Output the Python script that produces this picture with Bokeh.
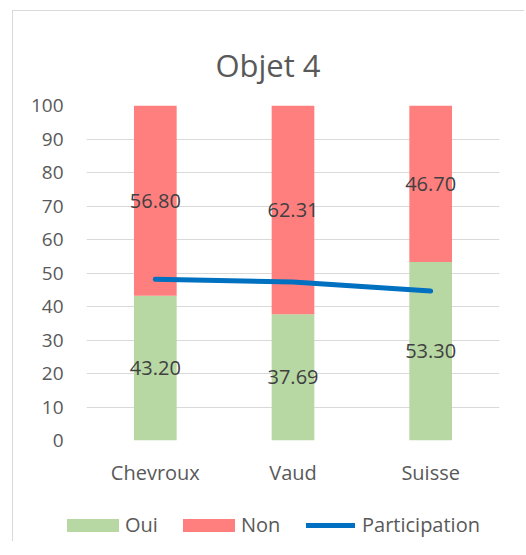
from bokeh.plotting import figure
from bokeh.models import ColumnDataSource, Range1d, FixedTicker, Legend, LegendItem, LabelSet, Label
from bokeh.core.properties import value
from bokeh.embed import file_html
from bokeh.resources import INLINE

categories = ["Chevroux", "Vaud", "Suisse"]
oui = [43.20, 37.69, 53.30]
non = [56.80, 62.31, 46.70]
participation = [48.1, 47.3, 44.6]
y_ticks = [0, 10, 20, 30, 40, 50, 60, 70, 80, 90, 100]
title_text = "Objet 4"

FONT = "Open Sans"
GREEN = "#b7d7a3"
RED = "#ff7f7f"
BLUE = "#0070c0"
TXT = "#595959"
BORDER = "1px solid #d9d9d9"

src = ColumnDataSource(dict(
    cat=categories, oui=oui, non=non, part=participation,
    oui_mid=[o / 2 for o in oui],
    non_mid=[o + n / 2 for o, n in zip(oui, non)],
    oui_lbl=[f"{v:.2f}" for v in oui],
    non_lbl=[f"{v:.2f}" for v in non],
))


def blank_strip(height, xr, yr):
    f = figure(width=512, height=height, x_range=xr, y_range=yr, title=None,
               output_backend="svg", toolbar_location=None, x_axis_type=None, y_axis_type=None,
               min_border=0)
    f.outline_line_color = None
    f.xgrid.grid_line_color = None
    f.ygrid.grid_line_color = None
    f.background_fill_color = "white"
    f.border_fill_color = "white"
    return f


# title strip
t = blank_strip(80, Range1d(0, 512), Range1d(0, 80))
t.margin = (10, 0, 0, 12)
t.styles = {"border-left": BORDER, "border-top": BORDER}
t.add_layout(Label(x=254.5, y=27, text=title_text, text_align="center",
                   text_baseline="alphabetic", text_font=FONT, text_font_size="31px",
                   text_color=TXT))

# main chart
p = figure(x_range=categories, y_range=Range1d(0, 100), width=512, height=409, title=None,
           output_backend="svg", toolbar_location=None,
           min_border_left=73, min_border_right=26, min_border_top=15, min_border_bottom=59)
p.margin = (0, 0, 0, 12)
p.styles = {"border-left": BORDER}
p.outline_line_color = None
p.background_fill_color = "white"
p.border_fill_color = "white"

p.vbar_stack(["oui", "non"], x="cat", width=0.31, source=src,
             color=[GREEN, RED], line_color=None)
p.line(x="cat", y="part", source=src, line_color=BLUE, line_width=5, line_cap="round")

for col, ycol in (("oui_lbl", "oui_mid"), ("non_lbl", "non_mid")):
    p.add_layout(LabelSet(x="cat", y=ycol, text=col, source=src, text_align="center",
                          text_baseline="middle", text_font=value(FONT),
                          text_font_size=value("20px"), text_color="#404040"))

p.yaxis.ticker = FixedTicker(ticks=y_ticks)
for ax in (p.xaxis[0], p.yaxis[0]):
    ax.axis_line_color = None
    ax.major_tick_line_color = None
    ax.minor_tick_line_color = None
    ax.major_tick_out = 0
    ax.major_tick_in = 0
    ax.minor_tick_out = 0
    ax.minor_tick_in = 0
    ax.major_label_text_font = FONT
    ax.major_label_text_color = TXT
p.yaxis.major_label_text_font_size = "19px"
p.xaxis.major_label_text_font_size = "20px"
p.yaxis.major_label_standoff = 23
p.xaxis.major_label_standoff = 18

p.xgrid.grid_line_color = None
p.ygrid.grid_line_color = "#d9d9d9"
p.ygrid.grid_line_width = 1
p.ygrid.ticker = FixedTicker(ticks=y_ticks)

# legend strip (separate root so its frame is not aligned with the chart's frame)
q = blank_strip(42, categories, Range1d(0, 100))
q.margin = (0, 0, 0, 12)
q.styles = {"border-left": BORDER}
g_oui, g_non = q.vbar_stack(["oui", "non"], x="cat", width=0.31, source=src,
                            color=[GREEN, RED], line_color=None)
g_part = q.line(x="cat", y="part", source=src, line_color=BLUE, line_width=5, line_cap="round")
for r in (g_oui, g_non, g_part):
    r.visible = False


def style_legend(lg):
    lg.orientation = "horizontal"
    lg.padding = 0
    lg.margin = 0
    lg.border_line_color = None
    lg.background_fill_color = None
    lg.label_text_font = FONT
    lg.label_text_font_size = "20px"
    lg.label_text_color = TXT
    lg.glyph_height = 16
    lg.inactive_fill_alpha = 0


leg1 = Legend(items=[LegendItem(label="Oui", renderers=[g_oui]),
                     LegendItem(label="Non", renderers=[g_non])], location=(47, 3))
style_legend(leg1)
leg1.glyph_width = 65
leg1.label_standoff = 0
leg1.spacing = 18
q.add_layout(leg1, "center")

leg2 = Legend(items=[LegendItem(label="Participation", renderers=[g_part])], location=(293, 3))
style_legend(leg2)
leg2.glyph_width = 49
leg2.label_standoff = 7
q.add_layout(leg2, "center")

open("out.html", "w").write(file_html([t, p, q], INLINE))
